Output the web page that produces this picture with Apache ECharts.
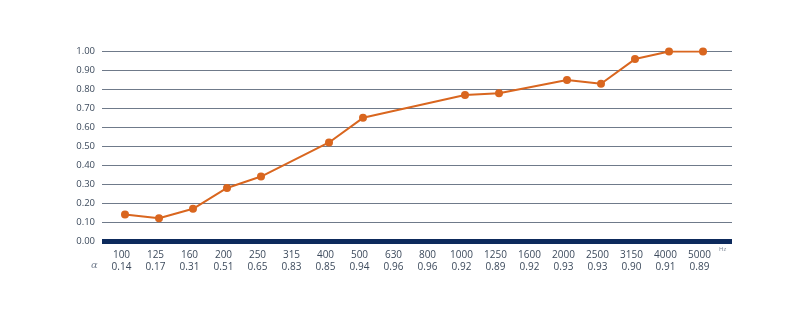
<!DOCTYPE html>
<html>
<head>
<meta charset="utf-8">
<script src="https://cdn.jsdelivr.net/npm/echarts@6/dist/echarts.min.js"></script>
<style>
  html, body { margin: 0; padding: 0; background: #ffffff; }
  #chart { width: 800px; height: 329px; }
</style>
</head>
<body>
<div id="chart"></div>
<script>
// Third-octave band centre frequencies (Hz)
const frequencies = ['100', '125', '160', '200', '250', '315', '400', '500', '630', '800',
                     '1000', '1250', '1600', '2000', '2500', '3150', '4000', '5000'];
// Absorption coefficient row printed under the axis
const alphaValues = ['0.14', '0.17', '0.31', '0.51', '0.65', '0.83', '0.85', '0.94', '0.96', '0.96',
                     '0.92', '0.89', '0.92', '0.93', '0.93', '0.90', '0.91', '0.89'];
// Measured curve (null = band without a measured point)
const curveValues = [0.14, 0.12, 0.17, 0.28, 0.34, null, 0.52, 0.65, null, null,
                     0.77, 0.78, null, 0.85, 0.83, 0.96, 1.00, 1.00];
// Y axis ticks
const yMin = 0, yMax = 1, yStep = 0.1;

const chart = echarts.init(document.getElementById('chart'), null, { renderer: 'canvas' });

const labelFont = 'Open Sans, "DejaVu Sans", sans-serif';

chart.setOption({
  backgroundColor: '#ffffff',
  animation: false,
  grid: [
    // frame carrying the horizontal rules and the heavy base line
    { left: 102, right: 68, top: 51.5, height: 189.5 },
    // plotting frame for the curve and the band labels
    { left: 125, right: 97, top: 51.5, height: 189.5 }
  ],
  xAxis: [
    {
      gridIndex: 0, type: 'value', min: 0, max: 1,
      axisLine: { show: true, lineStyle: { color: '#0d2a5c', width: 5, cap: 'butt' } },
      axisTick: { show: false }, axisLabel: { show: false }, splitLine: { show: false }
    },
    {
      gridIndex: 1, type: 'category', data: frequencies, boundaryGap: false,
      axisLine: { show: false }, axisTick: { show: false },
      axisLabel: {
        interval: 0, margin: 8, padding: [0, 7, 0, 0],
        formatter: (v, i) => '{f|' + v + '}\n{a|' + alphaValues[i] + '}',
        rich: {
          f: { fontFamily: labelFont, fontSize: 10, color: '#3c4a5c', lineHeight: 12 },
          a: { fontFamily: labelFont, fontSize: 10, color: '#3c4a5c', lineHeight: 12 }
        }
      },
      splitLine: { show: false }
    }
  ],
  yAxis: [
    {
      gridIndex: 0, type: 'value', min: yMin, max: yMax, interval: yStep,
      axisLine: { show: false }, axisTick: { show: false },
      axisLabel: {
        margin: 7, fontFamily: labelFont, fontSize: 9.5, color: '#3c4a5c',
        formatter: v => v.toFixed(2)
      },
      splitLine: { show: true, lineStyle: { color: '#6f7a8a', width: 1 } }
    },
    {
      gridIndex: 1, type: 'value', min: yMin, max: yMax, interval: yStep, show: false,
      splitLine: { show: false }
    }
  ],
  graphic: [
    { type: 'text', left: 91, top: 260,
      style: { text: 'α', font: 'italic 10px "DejaVu Serif", serif', fill: '#7a8494' } },
    { type: 'text', left: 719, top: 246,
      style: { text: 'Hz', font: '6px ' + labelFont, fill: '#7a8494' } }
  ],
  series: [
    {
      type: 'line', xAxisIndex: 1, yAxisIndex: 1,
      data: curveValues, connectNulls: true,
      symbol: 'circle', symbolSize: 8,
      lineStyle: { color: '#d9661f', width: 2 },
      itemStyle: { color: '#d9661f' },
      z: 5
    }
  ]
});
</script>
</body>
</html>
